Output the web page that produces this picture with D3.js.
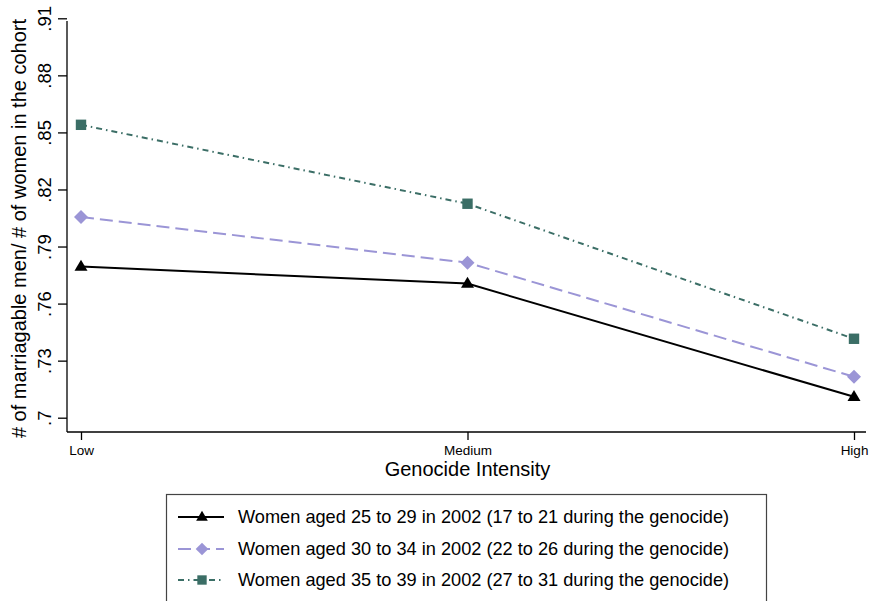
<!DOCTYPE html>
<html>
<head>
<meta charset="utf-8">
<script src="https://cdn.jsdelivr.net/npm/d3@7"></script>
<style>
html,body{margin:0;padding:0;background:#fff;}
svg{display:block;font-family:"Liberation Sans",Arial,Helvetica,sans-serif;}
</style>
</head>
<body>
<svg id="chart" width="872" height="601"></svg>
<script>
// ---- data ----
const categories = ["Low", "Medium", "High"];
const yTicks = [0.70, 0.73, 0.76, 0.79, 0.82, 0.85, 0.88, 0.91];
const yTickLabels = [".7", ".73", ".76", ".79", ".82", ".85", ".88", ".91"];
const seriesNames = [
  "Women aged 25 to 29 in 2002 (17 to 21 during the genocide)",
  "Women aged 30 to 34 in 2002 (22 to 26 during the genocide)",
  "Women aged 35 to 39 in 2002 (27 to 31 during the genocide)"
];
const valuesAge25 = [0.7795, 0.7705, 0.711];
const valuesAge30 = [0.8055, 0.7815, 0.7215];
const valuesAge35 = [0.854, 0.8125, 0.7415];
const xTitle = "Genocide Intensity";
const yTitle = "# of marriagable men/ # of women in the cohort";

// ---- styles ----
const styles = [
  {color:"#000000", dash:null, marker:"triangle", lw:2},
  {color:"#9b95d6", dash:"13,6", marker:"diamond", lw:2},
  {color:"#3b6e66", dash:"6,4,1.5,4", marker:"square", lw:2}
];
const series = [valuesAge25, valuesAge30, valuesAge35].map((v,i)=>({name:seriesNames[i], values:v, style:styles[i]}));

const svg = d3.select("#chart");
const plotLeft = 67, plotRight = 866, plotTop = 21, plotBottom = 432;

const x = d3.scalePoint().domain(categories).range([81, 854]);
const y = d3.scaleLinear().domain([0.70, 0.91]).range([417.7, 18.3]);

// y axis
const yAxis = d3.axisLeft(y).tickValues(yTicks).tickSize(9).tickSizeOuter(0)
  .tickFormat((d,i)=>yTickLabels[i]);
const gy = svg.append("g").attr("transform",`translate(${plotLeft},0)`).call(yAxis);
gy.select(".domain").remove();
gy.append("line").attr("x1",0).attr("x2",0).attr("y1",plotTop).attr("y2",plotBottom)
  .attr("stroke","#000").attr("stroke-width",1.3);
gy.selectAll(".tick line").attr("stroke","#000").attr("stroke-width",1.3);
gy.selectAll(".tick text")
  .attr("fill","#000").attr("font-size",18.5)
  .attr("transform","rotate(-90)")
  .attr("x",0).attr("y",-22).attr("dy","0.35em")
  .attr("text-anchor","middle");

// x axis
const xAxis = d3.axisBottom(x).tickSize(8).tickSizeOuter(0);
const gx = svg.append("g").attr("transform",`translate(0,${plotBottom})`).call(xAxis);
gx.select(".domain").remove();
gx.append("line").attr("x1",plotLeft).attr("x2",plotRight).attr("y1",0).attr("y2",0)
  .attr("stroke","#000").attr("stroke-width",1.3);
gx.selectAll(".tick line").attr("stroke","#000").attr("stroke-width",1.3);
gx.selectAll(".tick text").attr("fill","#000").attr("font-size",13.5)
  .attr("font-family","'Liberation Sans Narrow','Liberation Sans',Arial,sans-serif")
  .attr("y",13).attr("dy","0.71em");

// axis titles
svg.append("text").attr("x",(plotLeft+plotRight)/2 + 1).attr("y",476)
  .attr("text-anchor","middle").attr("font-size",20).attr("fill","#000").text(xTitle);
svg.append("text").attr("transform",`translate(26,${(plotTop+plotBottom)/2+2}) rotate(-90)`)
  .attr("text-anchor","middle").attr("font-size",20).attr("fill","#000").text(yTitle);

// markers
function drawMarker(g, type, cx, cy, color, s){
  s = s || 1;
  if(type==="triangle"){
    const h=11*s, w=13*s;
    g.append("path").attr("d",`M${cx},${cy-h*0.62}L${cx+w/2},${cy+h*0.38}L${cx-w/2},${cy+h*0.38}Z`).attr("fill",color);
  } else if(type==="diamond"){
    const r=7*s;
    g.append("path").attr("d",`M${cx},${cy-r}L${cx+r},${cy}L${cx},${cy+r}L${cx-r},${cy}Z`).attr("fill",color);
  } else {
    const r=5.2*s;
    g.append("rect").attr("x",cx-r).attr("y",cy-r).attr("width",2*r).attr("height",2*r).attr("fill",color);
  }
}

const line = d3.line().x((d,i)=>x(categories[i])).y(d=>y(d));
const plot = svg.append("g");
series.slice().reverse().forEach(s=>{
  plot.append("path").datum(s.values).attr("d",line)
    .attr("fill","none").attr("stroke",s.style.color).attr("stroke-width",s.style.lw)
    .attr("stroke-dasharray",s.style.dash);
  s.values.forEach((v,i)=>drawMarker(plot,s.style.marker,x(categories[i]),y(v),s.style.color));
});

// legend
const lg = svg.append("g");
lg.append("rect").attr("x",166.5).attr("y",494.5).attr("width",600).attr("height",120)
  .attr("fill","#fff").attr("stroke","#444").attr("stroke-width",1.2);
const legendY = [517, 549, 580];
series.forEach((s,i)=>{
  const ly = legendY[i];
  lg.append("line").attr("x1",178).attr("x2",224).attr("y1",ly).attr("y2",ly)
    .attr("stroke",s.style.color).attr("stroke-width",s.style.lw)
    .attr("stroke-dasharray",s.style.dash);
  drawMarker(lg,s.style.marker,202,ly,s.style.color,0.9);
  lg.append("text").attr("x",238).attr("y",ly).attr("dy","0.35em")
    .attr("font-size",18.2).attr("fill","#000").text(s.name);
});
</script>
</body>
</html>
